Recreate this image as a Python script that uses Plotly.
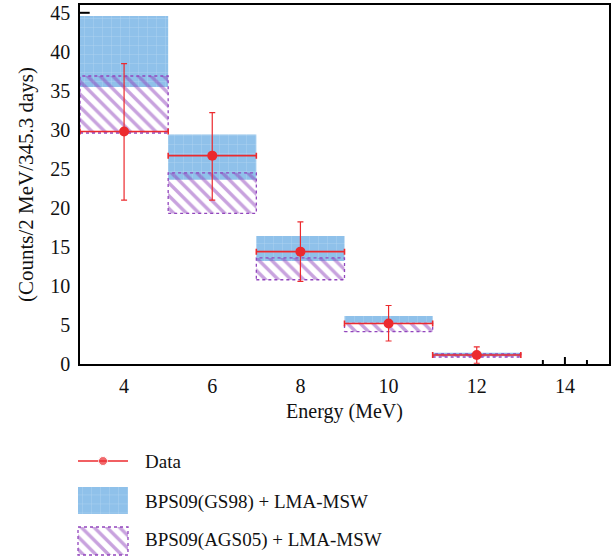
import plotly.graph_objects as go

# ---- data ----
energy = [4, 6, 8, 10, 12]
bin_half = [1, 1, 1, 1, 1]
data_counts = [29.8, 26.7, 14.4, 5.2, 1.15]
err_plus = [8.7, 5.5, 3.8, 2.3, 1.05]
err_minus = [8.8, 5.7, 3.8, 2.25, 1.05]
gs98_low = [35.5, 23.6, 13.2, 5.3, 1.0]
gs98_high = [44.6, 29.4, 16.4, 6.15, 1.45]
ags05_low = [29.6, 19.3, 10.8, 4.15, 0.9]
ags05_high = [36.9, 24.5, 13.6, 5.2, 1.3]

x_ticks = [4, 6, 8, 10, 12, 14]
y_ticks = [0, 5, 10, 15, 20, 25, 30, 35, 40, 45]

legend_labels = ["Data", "BPS09(GS98) + LMA-MSW", "BPS09(AGS05) + LMA-MSW"]

RED = "#ec2a2e"
BLUE = "#8fc1ea"
PURPLE = "#9246bd"
FONT = "Liberation Serif"

BLUE_PATTERN = dict(shape="+", fgcolor="white", bgcolor=BLUE, size=9,
                    solidity=0.08, fgopacity=0.35)
PURPLE_PATTERN = dict(shape="\\", fgcolor=PURPLE, bgcolor="rgba(0,0,0,0)",
                      size=9, solidity=0.38)


def rects(centers, halves, lows, highs):
    xs, ys = [], []
    for c, h, lo, hi in zip(centers, halves, lows, highs):
        xs += [c - h, c + h, c + h, c - h, c - h, None]
        ys += [lo, lo, hi, hi, lo, None]
    return xs, ys


fig = go.Figure()

bx, by = rects(energy, bin_half, gs98_low, gs98_high)
fig.add_trace(go.Scatter(
    x=bx, y=by, mode="lines", fill="toself", fillcolor=BLUE,
    line=dict(width=0, color=BLUE), fillpattern=BLUE_PATTERN,
    showlegend=False, hoverinfo="skip"))

px_, py_ = rects(energy, bin_half, ags05_low, ags05_high)
fig.add_trace(go.Scatter(
    x=px_, y=py_, mode="lines", fill="toself", fillcolor="rgba(0,0,0,0)",
    line=dict(width=1.3, color=PURPLE, dash="dot"), fillpattern=PURPLE_PATTERN,
    showlegend=False, hoverinfo="skip"))

fig.add_trace(go.Scatter(
    x=energy, y=data_counts, mode="markers",
    marker=dict(color=RED, size=10),
    error_y=dict(type="data", array=err_plus, arrayminus=err_minus,
                 color=RED, thickness=1.2, width=3),
    error_x=dict(type="data", array=bin_half, color=RED, thickness=1.6, width=3),
    showlegend=False))

# ---- manual legend drawn on a pixel-scaled helper axis ----
L_X0, L_X1 = 78, 128
fig.add_trace(go.Scatter(
    x=[L_X0, (L_X0 + L_X1) / 2, L_X1], y=[461, 461, 461],
    mode="lines+markers", line=dict(color=RED, width=1.3),
    marker=dict(color=RED, size=[0, 9, 0]),
    xaxis="x2", yaxis="y2", showlegend=False, hoverinfo="skip"))
fig.add_trace(go.Scatter(
    x=[L_X0, L_X1, L_X1, L_X0, L_X0], y=[487, 487, 514, 514, 487],
    mode="lines", fill="toself", fillcolor=BLUE, line=dict(width=0),
    fillpattern=BLUE_PATTERN,
    xaxis="x2", yaxis="y2", showlegend=False, hoverinfo="skip"))
fig.add_trace(go.Scatter(
    x=[L_X0, L_X1, L_X1, L_X0, L_X0], y=[527, 527, 555, 555, 527],
    mode="lines", fill="toself", fillcolor="rgba(0,0,0,0)",
    line=dict(width=1.3, color=PURPLE, dash="dot"), fillpattern=PURPLE_PATTERN,
    xaxis="x2", yaxis="y2", showlegend=False, hoverinfo="skip"))

for lab, yy in zip(legend_labels, [461, 502, 540]):
    fig.add_annotation(x=143, y=yy, xref="x2", yref="y2", text=lab,
                       showarrow=False, xanchor="left", yanchor="middle",
                       font=dict(family=FONT, size=19, color="#111"))

# little tick marks visible in the reference
shapes = []
for xv, h in [(13.5, 4), (14, 7), (14.5, 4)]:
    shapes.append(dict(type="line", xref="x", yref="y", x0=xv, x1=xv,
                       y0=0, y1=h / 7.8, line=dict(color="black", width=2)))
shapes.append(dict(type="line", xref="x", yref="y", x0=3, x1=3.22,
                   y0=45, y1=45, line=dict(color="black", width=2)))

fig.update_layout(
    width=613, height=559,
    margin=dict(l=60, r=4, t=5, b=2),
    paper_bgcolor="white", plot_bgcolor="white",
    font=dict(family=FONT, size=20, color="#111"),
    shapes=shapes,
    xaxis=dict(domain=[0.03643, 1], range=[3, 15], tickvals=x_ticks,
               showline=True, mirror=True, linecolor="black", linewidth=1.5,
               ticks="", showgrid=False, zeroline=False, anchor="y",
               ticklabelstandoff=3, automargin=False,
               tickfont=dict(family=FONT, size=20),
               title=dict(text="Energy (MeV)", standoff=8,
                          font=dict(family=FONT, size=20))),
    yaxis=dict(domain=[0.3496, 1], range=[0, 46], tickvals=y_ticks,
               showline=True, mirror=True, linecolor="black", linewidth=1.5,
               ticks="", showgrid=False, zeroline=False, anchor="x",
               ticklabelstandoff=4, automargin=False,
               tickfont=dict(family=FONT, size=20),
               title=dict(text="(Counts/2 MeV/345.3 days)", standoff=11,
                          font=dict(family=FONT, size=21))),
    xaxis2=dict(domain=[0, 1], range=[60, 609], visible=False, anchor="y2"),
    yaxis2=dict(domain=[0, 0.30], range=[557, 391.4], visible=False, anchor="x2"),
)

fig.write_html("out.html", config={"displayModeBar": False},
               post_script="document.body.style.margin='0';")
